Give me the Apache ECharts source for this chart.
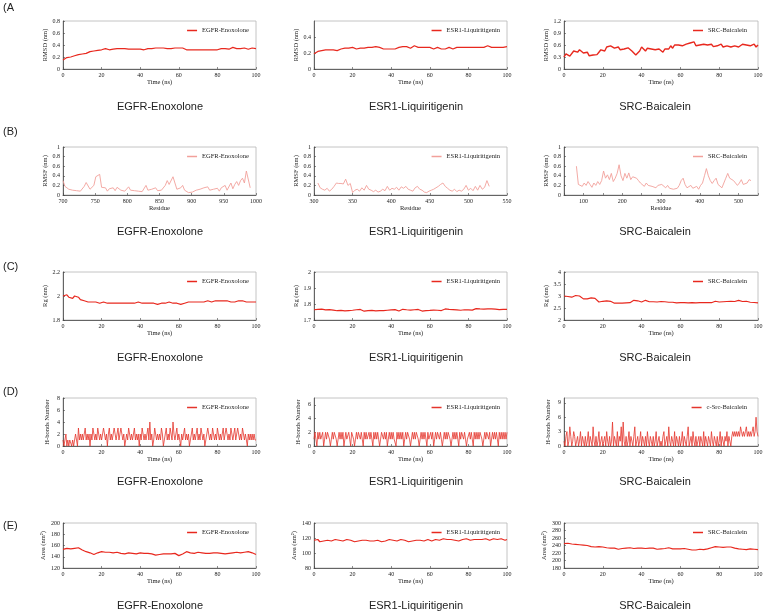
<!DOCTYPE html>
<html>
<head>
<meta charset="utf-8">
<script src="https://cdn.jsdelivr.net/npm/echarts@6/dist/echarts.min.js"></script>
<style>
html, body { margin: 0; padding: 0; background: #fff; }
#chart { width: 767px; height: 616px; }
</style>
</head>
<body>
<div id="chart"></div>
<script>
// ---- data ----
// (A) RMSD, one value per ns, 0..100 ns
var rmsdEgfr = [
    0.15,0.18,0.19,0.18,0.20,0.21,0.22,0.21,0.24,0.25,
    0.25,0.27,0.26,0.28,0.29,0.28,0.30,0.29,0.31,0.30,
    0.32,0.31,0.34,0.31,0.32,0.31,0.33,0.32,0.34,0.33,
    0.34,0.33,0.34,0.32,0.33,0.34,0.33,0.35,0.33,0.34,
    0.33,0.34,0.32,0.35,0.34,0.35,0.34,0.33,0.35,0.34,
    0.35,0.34,0.35,0.36,0.34,0.35,0.34,0.33,0.35,0.36,
    0.35,0.36,0.35,0.34,0.32,0.31,0.32,0.31,0.32,0.31,
    0.32,0.31,0.32,0.33,0.32,0.31,0.32,0.33,0.32,0.33,
    0.32,0.33,0.34,0.33,0.34,0.35,0.33,0.34,0.36,0.35,
    0.34,0.33,0.34,0.33,0.35,0.34,0.33,0.34,0.35,0.34,0.34];
var rmsdEsr1 = [
    0.19,0.21,0.22,0.22,0.23,0.22,0.24,0.23,0.24,0.23,
    0.24,0.25,0.23,0.24,0.25,0.24,0.26,0.25,0.26,0.25,
    0.27,0.26,0.25,0.27,0.26,0.27,0.26,0.25,0.27,0.26,
    0.27,0.26,0.28,0.26,0.27,0.26,0.25,0.26,0.25,0.26,
    0.25,0.24,0.25,0.26,0.27,0.29,0.28,0.27,0.28,0.27,
    0.26,0.27,0.29,0.28,0.27,0.28,0.27,0.26,0.27,0.26,
    0.27,0.26,0.25,0.26,0.27,0.26,0.25,0.26,0.25,0.26,
    0.27,0.26,0.25,0.26,0.27,0.26,0.27,0.26,0.27,0.26,
    0.27,0.26,0.27,0.28,0.27,0.28,0.27,0.28,0.27,0.28,
    0.29,0.28,0.27,0.28,0.27,0.26,0.27,0.28,0.27,0.28,0.28];
var rmsdSrc = [
    0.30,0.38,0.35,0.32,0.28,0.45,0.50,0.42,0.48,0.44,
    0.40,0.36,0.42,0.33,0.38,0.35,0.32,0.36,0.42,0.48,
    0.50,0.45,0.55,0.52,0.58,0.60,0.52,0.50,0.55,0.48,
    0.52,0.50,0.48,0.53,0.50,0.45,0.40,0.35,0.38,0.45,
    0.55,0.50,0.45,0.52,0.48,0.50,0.55,0.48,0.52,0.50,
    0.45,0.42,0.50,0.55,0.50,0.58,0.52,0.60,0.55,0.60,
    0.62,0.58,0.55,0.62,0.58,0.65,0.60,0.68,0.58,0.62,
    0.60,0.55,0.62,0.58,0.60,0.55,0.62,0.56,0.60,0.58,
    0.60,0.62,0.55,0.60,0.58,0.62,0.55,0.60,0.58,0.63,
    0.55,0.60,0.62,0.57,0.60,0.65,0.58,0.60,0.62,0.55,0.60];

// (B) RMSF per residue
var rmsfEgfrRes = [700, 991];
var rmsfEgfr = [
    0.30,0.18,0.15,0.12,0.16,0.10,0.14,0.09,0.12,0.08,
    0.12,0.18,0.26,0.27,0.12,0.10,0.20,0.38,0.35,0.43,
    0.16,0.12,0.15,0.08,0.13,0.10,0.15,0.09,0.16,0.12,
    0.10,0.13,0.08,0.12,0.17,0.10,0.14,0.09,0.12,0.08,
    0.10,0.07,0.10,0.20,0.10,0.08,0.12,0.10,0.15,0.09,
    0.12,0.10,0.14,0.20,0.30,0.22,0.26,0.38,0.41,0.12,
    0.08,0.15,0.20,0.10,0.07,0.05,0.04,0.06,0.08,0.10,
    0.07,0.12,0.10,0.15,0.12,0.17,0.10,0.08,0.12,0.10,
    0.14,0.08,0.15,0.12,0.20,0.10,0.14,0.25,0.13,0.22,
    0.28,0.20,0.30,0.35,0.25,0.50,0.48,0.15];
var rmsfEsr1Res = [305, 527];
var rmsfEsr1 = [
    0.25,0.15,0.12,0.10,0.14,0.08,0.12,0.18,0.25,0.24,
    0.24,0.23,0.33,0.20,0.24,0.05,0.10,0.12,0.08,0.15,
    0.10,0.20,0.12,0.10,0.07,0.10,0.06,0.08,0.12,0.09,
    0.18,0.10,0.14,0.12,0.16,0.10,0.17,0.14,0.18,0.12,
    0.10,0.08,0.15,0.18,0.12,0.10,0.06,0.05,0.08,0.10,
    0.12,0.15,0.18,0.22,0.25,0.18,0.14,0.10,0.08,0.12,
    0.07,0.10,0.08,0.12,0.20,0.10,0.14,0.09,0.18,0.10,
    0.20,0.12,0.16,0.30,0.18];
var rmsfSrcRes = [82, 532];
var rmsfSrc = [
    0.60,0.22,0.20,0.18,0.25,0.20,0.28,0.22,0.16,0.25,
    0.20,0.28,0.22,0.30,0.50,0.35,0.42,0.32,0.45,0.28,
    0.35,0.45,0.63,0.40,0.30,0.45,0.35,0.46,0.32,0.38,
    0.42,0.35,0.30,0.25,0.28,0.18,0.25,0.20,0.22,0.18,
    0.22,0.15,0.20,0.16,0.22,0.18,0.15,0.20,0.14,0.18,
    0.12,0.16,0.14,0.20,0.30,0.35,0.22,0.15,0.13,0.20,
    0.14,0.12,0.18,0.12,0.20,0.25,0.40,0.55,0.40,0.30,
    0.24,0.30,0.35,0.22,0.18,0.15,0.25,0.35,0.45,0.35,
    0.38,0.30,0.26,0.20,0.25,0.32,0.22,0.20,0.25,0.32,0.30];

// (C) Rg
var rgEgfr = [
    2.00,1.99,2.01,1.99,2.00,1.98,2.00,1.99,1.99,1.97,
    1.97,1.96,1.96,1.95,1.95,1.95,1.94,1.95,1.94,1.94,
    1.94,1.95,1.94,1.94,1.95,1.94,1.94,1.94,1.94,1.94,
    1.94,1.94,1.93,1.94,1.94,1.94,1.95,1.94,1.95,1.95,
    1.95,1.94,1.95,1.94,1.95,1.94,1.94,1.94,1.93,1.93,
    1.93,1.94,1.94,1.94,1.94,1.95,1.94,1.94,1.95,1.94,
    1.93,1.93,1.94,1.94,1.95,1.95,1.96,1.95,1.96,1.95,
    1.95,1.95,1.96,1.95,1.95,1.96,1.95,1.95,1.95,1.96,
    1.95,1.96,1.95,1.96,1.95,1.96,1.96,1.95,1.96,1.95,
    1.96,1.96,1.95,1.96,1.95,1.95,1.96,1.95,1.95,1.95,1.95];
var rgEsr1 = [
    1.764,1.758,1.766,1.761,1.768,1.759,1.763,1.757,1.765,1.760,
    1.762,1.767,1.758,1.764,1.760,1.766,1.757,1.763,1.759,1.765,
    1.761,1.756,1.764,1.759,1.766,1.760,1.755,1.762,1.758,1.764,
    1.760,1.765,1.757,1.762,1.758,1.764,1.759,1.766,1.761,1.757,
    1.763,1.758,1.765,1.760,1.756,1.762,1.767,1.760,1.764,1.758,
    1.762,1.757,1.764,1.759,1.766,1.761,1.756,1.763,1.759,1.765,
    1.760,1.766,1.762,1.768,1.761,1.765,1.759,1.764,1.769,1.762,
    1.766,1.760,1.765,1.770,1.763,1.767,1.761,1.768,1.764,1.769,
    1.763,1.768,1.762,1.767,1.771,1.764,1.769,1.763,1.768,1.765,
    1.770,1.764,1.769,1.763,1.768,1.772,1.765,1.770,1.766,1.771,1.767];
var rgSrc = [
    3.00,2.95,2.98,2.92,2.95,2.90,3.02,3.05,3.00,2.95,
    2.88,2.85,2.88,2.90,2.92,2.95,2.90,2.85,2.75,2.75,
    2.78,2.76,2.80,2.77,2.78,2.75,2.70,2.72,2.70,2.72,
    2.70,2.72,2.71,2.73,2.72,2.75,2.82,2.85,2.80,2.77,
    2.75,2.78,2.82,2.80,2.76,2.78,2.76,2.80,2.75,2.78,
    2.77,2.80,2.76,2.78,2.74,2.76,2.74,2.72,2.71,2.70,
    2.72,2.70,2.72,2.70,2.71,2.70,2.72,2.68,2.71,2.70,
    2.72,2.70,2.73,2.71,2.72,2.74,2.72,2.75,2.78,2.76,
    2.75,2.78,2.76,2.80,2.77,2.76,2.78,2.75,2.77,2.80,
    2.82,2.78,2.77,2.76,2.78,2.75,2.74,2.76,2.73,2.72,2.71];

// (D) H-bond counts, two samples per ns
var hbEgfr = [
    1,0,1,2,0,1,0,1,1,0,1,0,1,2,1,0,3,1,2,1,
    2,1,2,3,1,2,1,2,0,2,1,3,2,1,2,1,3,2,1,2,
    1,2,3,2,1,2,0,2,3,1,2,1,2,3,2,1,2,3,1,2,
    3,2,1,2,0,1,2,1,3,2,1,2,1,2,3,1,2,1,2,0,
    2,1,3,2,1,2,1,2,3,1,4,1,2,0,1,3,2,1,2,1,
    2,1,3,2,0,1,2,3,1,2,1,3,2,1,4,2,1,2,3,1,
    2,1,0,2,1,2,3,1,2,1,2,0,1,2,3,1,2,1,2,3,
    1,2,1,3,2,1,2,0,1,2,3,2,1,2,1,3,2,1,2,1,
    3,2,1,2,1,2,3,1,2,3,2,1,2,1,3,2,1,2,3,1,
    2,3,2,1,2,1,3,2,1,2,1,0,2,1,2,1,2,1,2,1,1];
var hbEsr1 = [
    1,2,1,0,2,1,2,1,1,2,0,1,2,1,2,2,1,0,1,2,
    1,2,2,1,0,1,2,1,2,1,2,0,1,2,1,1,2,1,0,2,
    2,1,0,1,2,1,2,2,1,2,1,0,2,1,2,1,1,2,1,2,
    1,0,2,1,2,1,2,1,0,1,2,2,1,2,1,2,0,1,2,1,
    2,1,2,1,1,0,2,1,2,1,2,1,2,0,1,2,1,2,2,1,
    0,1,2,1,2,1,2,2,1,0,1,2,1,2,1,2,1,0,2,1,
    1,2,1,2,0,1,2,1,2,2,1,2,1,0,1,2,1,2,1,2,
    2,1,0,1,2,1,2,1,2,1,0,2,1,2,2,1,2,1,0,1,
    1,2,1,2,1,0,2,1,2,1,2,1,2,2,1,0,1,2,1,2,
    2,1,2,0,1,2,1,2,1,2,1,0,2,1,2,1,2,1,2,1,2];
var hbSrc = [
    1,0,2,3,0,1,4,2,0,1,3,2,0,1,2,0,1,3,0,2,
    1,0,2,0,1,3,0,2,1,0,4,1,0,2,0,1,3,0,1,2,
    0,1,2,0,3,1,0,2,0,1,5,0,2,1,0,3,0,2,1,4,
    0,5,1,0,2,0,1,3,0,2,1,0,2,4,0,1,2,0,1,3,
    0,2,1,0,2,0,3,1,0,2,1,0,2,0,1,3,0,1,2,0,
    1,0,2,3,0,1,2,0,4,1,0,2,1,0,3,0,2,1,0,2,
    0,1,3,0,2,1,0,2,4,0,1,2,0,3,1,0,2,0,1,2,
    0,2,1,0,3,0,2,1,0,2,1,0,3,1,0,2,1,0,2,0,
    1,3,0,2,1,0,2,1,3,0,2,1,0,2,3,2,3,2,3,2,
    3,2,4,3,2,3,2,3,4,2,3,2,3,2,3,4,2,3,6,3,2];

// (E) SASA
var sasaEgfr = [
    153,156,155,157,154,156,155,157,156,155,
    152,150,149,148,147,145,144,146,147,148,
    149,147,148,150,148,149,147,146,148,147,
    146,147,145,146,147,145,146,147,145,146,
    147,145,146,144,146,143,145,144,143,145,
    144,143,145,144,145,143,145,144,146,145,
    142,143,145,146,149,148,147,149,146,147,
    148,146,147,149,146,147,146,148,147,146,
    147,148,146,147,145,147,146,148,147,146,
    148,146,147,149,148,147,149,146,147,145,144];
var sasaEsr1 = [
    117,116,118,115,117,116,118,117,115,116,
    117,118,116,117,115,116,117,118,116,117,
    116,115,117,116,118,117,116,117,115,116,
    117,116,118,117,116,115,117,116,117,118,
    116,117,115,116,117,118,116,117,116,115,
    117,116,118,117,116,117,115,116,117,118,
    117,116,117,118,116,117,118,119,117,118,
    117,118,119,117,118,116,117,118,117,119,
    118,117,119,118,117,118,116,118,117,119,
    118,117,118,119,117,118,117,119,118,117,118];
var sasaSrc = [
    245,243,246,242,244,241,243,240,242,240,
    241,243,240,238,237,238,236,238,237,235,
    236,237,234,232,233,232,233,231,230,231,
    232,231,233,232,234,233,232,234,233,235,
    233,234,232,235,233,234,233,231,230,232,
    231,230,232,233,234,232,231,233,231,232,
    231,230,232,231,230,229,228,227,228,229,
    230,228,229,230,231,233,234,236,237,235,
    236,234,235,237,236,238,236,235,233,232,
    231,232,230,231,229,230,231,229,230,228,229];

var timeRange = [0, 100];
var compounds = ['EGFR-Enoxolone', 'ESR1-Liquiritigenin', 'SRC-Baicalein'];
var rowLetters = ['(A', '(B)', '(C)', '(D)', '(E)'];

// ---- layout ----
var colLeft = [63, 314, 564];
var colWidth = [193, 193, 194];
var colCenter = [160, 416, 655];
var legendInset = [7, 7, 11];
var rowTop = [21, 147, 272, 398, 523];
var rowHeight = [48, 48, 48, 48, 45];
var subtitleY = [107, 232, 358, 482, 606];
var letterY = [8, 132, 267, 392, 526];

var red = '#e8281e';
var rows = [
    { yName: 'RMSD (nm)', xName: 'Time (ns)', color: red, width: 1.2, panels: [
        { data: rmsdEgfr, span: timeRange, x: [0, 100, 20], y: [0, 0.8, 0.2] },
        { data: rmsdEsr1, span: timeRange, x: [0, 100, 20], y: [0, 0.6, 0.2], hideMaxY: true },
        { data: rmsdSrc, span: timeRange, x: [0, 100, 20], y: [0, 1.2, 0.3], width: 1.4 }
    ]},
    { yName: 'RMSF (nm)', xName: 'Residue', color: '#f2a09b', width: 0.9, panels: [
        { data: rmsfEgfr, span: rmsfEgfrRes, x: [700, 1000, 50], y: [0, 1, 0.2] },
        { data: rmsfEsr1, span: rmsfEsr1Res, x: [300, 550, 50], y: [0, 1, 0.2] },
        { data: rmsfSrc, span: rmsfSrcRes, x: [50, 550, 50], y: [0, 1, 0.2], hundreds: true }
    ]},
    { yName: 'Rg (nm)', xName: 'Time (ns)', color: red, width: 1.2, panels: [
        { data: rgEgfr, span: timeRange, x: [0, 100, 20], y: [1.8, 2.2, 0.2] },
        { data: rgEsr1, span: timeRange, x: [0, 100, 20], y: [1.7, 2.0, 0.1] },
        { data: rgSrc, span: timeRange, x: [0, 100, 20], y: [2, 4, 0.5] }
    ]},
    { yName: 'H-bonds Number', xName: 'Time (ns)', color: '#e4352c', width: 0.8, step: true, panels: [
        { data: hbEgfr, span: timeRange, x: [0, 100, 20], y: [0, 8, 2] },
        { data: hbEsr1, span: timeRange, x: [0, 100, 20], y: [0, 7, 2], hideMaxY: true },
        { data: hbSrc, span: timeRange, x: [0, 100, 20], y: [0, 10, 3], hideMaxY: true, legend: 'c-Src-Baicalein' }
    ]},
    { yName: 'Area (nm\u00B2)', xName: 'Time (ns)', color: red, width: 1.2, panels: [
        { data: sasaEgfr, span: timeRange, x: [0, 100, 20], y: [120, 200, 20] },
        { data: sasaEsr1, span: timeRange, x: [0, 100, 20], y: [80, 140, 20] },
        { data: sasaSrc, span: timeRange, x: [0, 100, 20], y: [180, 300, 20] }
    ]}
];

function toPairs(values, span) {
    var step = (span[1] - span[0]) / (values.length - 1);
    return values.map(function (v, i) { return [span[0] + i * step, v]; });
}

var serif = '"Liberation Serif", "DejaVu Serif", serif';
var sans = '"Liberation Sans", Arial, sans-serif';
var axisColor = '#444';

var grids = [], xAxes = [], yAxes = [], series = [], legends = [], graphics = [];

rows.forEach(function (row, r) {
    row.panels.forEach(function (p, c) {
        var idx = grids.length;
        var name = compounds[c] + ' ' + rowLetters[r];
        grids.push({
            left: colLeft[c], top: rowTop[r], width: colWidth[c], height: rowHeight[r],
            show: true, borderColor: '#b5b5b5', borderWidth: 0.8, containLabel: false
        });
        xAxes.push({
            gridIndex: idx, type: 'value', min: p.x[0], max: p.x[1], interval: p.x[2],
            name: row.xName, nameLocation: 'middle', nameGap: 10,
            nameTextStyle: { fontFamily: serif, fontSize: 6.5, color: '#222' },
            axisLine: { lineStyle: { color: axisColor, width: 0.8 } },
            axisTick: { inside: true, length: 2, lineStyle: { color: axisColor, width: 0.6 } },
            splitLine: { show: false },
            axisLabel: {
                fontFamily: serif, fontSize: 6, color: '#222', margin: 3,
                formatter: p.hundreds
                    ? function (v) { return v % 100 === 0 ? String(v) : ''; }
                    : function (v) { return String(v); }
            }
        });
        yAxes.push({
            gridIndex: idx, type: 'value', min: p.y[0], max: p.y[1], interval: p.y[2],
            name: row.yName, nameLocation: 'middle', nameGap: 12,
            nameTextStyle: { fontFamily: serif, fontSize: 6.5, color: '#222' },
            axisLine: { show: true, lineStyle: { color: axisColor, width: 0.8 } },
            axisTick: { show: true, inside: true, length: 2, lineStyle: { color: axisColor, width: 0.6 } },
            splitLine: { show: false },
            axisLabel: {
                fontFamily: serif, fontSize: 6, color: '#222', margin: 3,
                showMaxLabel: p.hideMaxY ? false : true
            }
        });
        series.push({
            name: name, type: 'line', xAxisIndex: idx, yAxisIndex: idx,
            data: toPairs(p.data, p.span),
            showSymbol: false, symbol: 'none', step: row.step ? 'end' : false,
            lineStyle: { color: row.color, width: p.width || row.width },
            itemStyle: { color: row.color },
            animation: false, silent: true
        });
        legends.push({
            data: [{ name: name, icon: 'rect', itemStyle: { color: row.color } }],
            formatter: function () { return p.legend || compounds[c]; },
            right: 767 - (colLeft[c] + colWidth[c]) + legendInset[c],
            top: rowTop[r] + 6,
            itemWidth: 10, itemHeight: 1.5, itemGap: 0, padding: 0,
            selectedMode: false,
            textStyle: { fontFamily: serif, fontSize: 6.5, color: '#222' }
        });
        graphics.push({
            type: 'text', x: colCenter[c], y: subtitleY[r], silent: true,
            style: { text: compounds[c], fill: '#222', font: '11px ' + sans, align: 'center', verticalAlign: 'middle' }
        });
    });
    graphics.push({
        type: 'text', x: 3, y: letterY[r], silent: true,
        style: { text: rowLetters[r], fill: '#222', font: '11px ' + sans, align: 'left', verticalAlign: 'middle' }
    });
});

var myChart = echarts.init(document.getElementById('chart'), null, { renderer: 'canvas' });
var option = {
    backgroundColor: '#fff',
    animation: false,
    grid: grids,
    xAxis: xAxes,
    yAxis: yAxes,
    legend: legends,
    series: series,
    graphic: graphics
};
myChart.setOption(option);
</script>
</body>
</html>
